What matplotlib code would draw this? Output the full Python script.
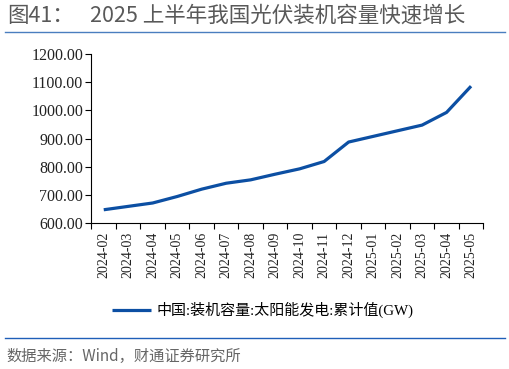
import matplotlib.pyplot as plt
import numpy as np
from matplotlib.lines import Line2D

# données
mois = ["2024-02", "2024-03", "2024-04", "2024-05", "2024-06", "2024-07", "2024-08", "2024-09",
        "2024-10", "2024-11", "2024-12", "2025-01", "2025-02", "2025-03", "2025-04", "2025-05"]
capacite = [648, 660, 672, 695, 721, 742, 754, 774, 793, 819, 888, 908, 928, 948, 993, 1086]
serie = "中国:装机容量:太阳能发电:累计值(GW)"
titre_num = "图41："
titre = "2025 上半年我国光伏装机容量快速增长"
source = "数据来源：Wind，财通证券研究所"

W, H = 510, 369
fig = plt.figure(figsize=(W / 100, H / 100), dpi=100)
ax = fig.add_axes([91.5 / W, 1 - 223.3 / H, (483.3 - 91.5) / W, (223.3 - 54) / H])

bleu = "#0c4fa3"
serif_cjk = ["Liberation Serif", "Noto Sans CJK SC"]
sans_cjk = ["Noto Sans CJK SC", "DejaVu Sans"]

x = np.arange(len(mois))
ax.plot(x, capacite, color=bleu, lw=2.3, solid_capstyle="butt", label=serie)

ax.set_ylim(600, 1200)
ax.set_yticks(np.arange(600, 1201, 100))
ax.set_yticklabels(["%.2f" % v for v in np.arange(600, 1201, 100)],
                   family="Liberation Serif", fontsize=11.5, color="#222222")
ax.set_xlim(-0.5, len(mois) - 0.5)
ax.set_xticks(x)
ax.set_xticklabels(mois, rotation=90, family="Liberation Serif", fontsize=10, color="#222222")
ax.set_xticks(np.arange(-0.5, len(mois)), minor=True)
ax.tick_params(axis="x", which="major", length=0, pad=6)
ax.tick_params(axis="x", which="minor", length=4, width=0.8, direction="out")
ax.tick_params(axis="y", length=4, width=0.8, pad=2)

for s in ["top", "right"]:
    ax.spines[s].set_visible(False)
for s in ["left", "bottom"]:
    ax.spines[s].set_linewidth(0.8)

# légende
fig.legend(loc="center", bbox_to_anchor=(263 / W, 1 - 310 / H), frameon=False,
           handlelength=2.6, handletextpad=0.4, prop={"family": serif_cjk, "size": 10.8})

# titre et source
fig.text(7 / W, 1 - 16 / H, titre_num, family=sans_cjk, fontsize=15.5, color="#595959", va="center")
fig.text(90 / W, 1 - 16 / H, titre, family=sans_cjk, fontsize=15.5, color="#595959", va="center")
fig.add_artist(Line2D([5 / W, 505 / W], [1 - 32 / H, 1 - 32 / H], color="#4a7ebf", lw=1))
fig.add_artist(Line2D([5 / W, 505 / W], [1 - 338 / H, 1 - 338 / H], color="#1f5fb8", lw=1))
fig.text(6 / W, 1 - 356 / H, source, family=sans_cjk, fontsize=11, color="#666666", va="center")

fig.savefig("out.png", dpi=100)
